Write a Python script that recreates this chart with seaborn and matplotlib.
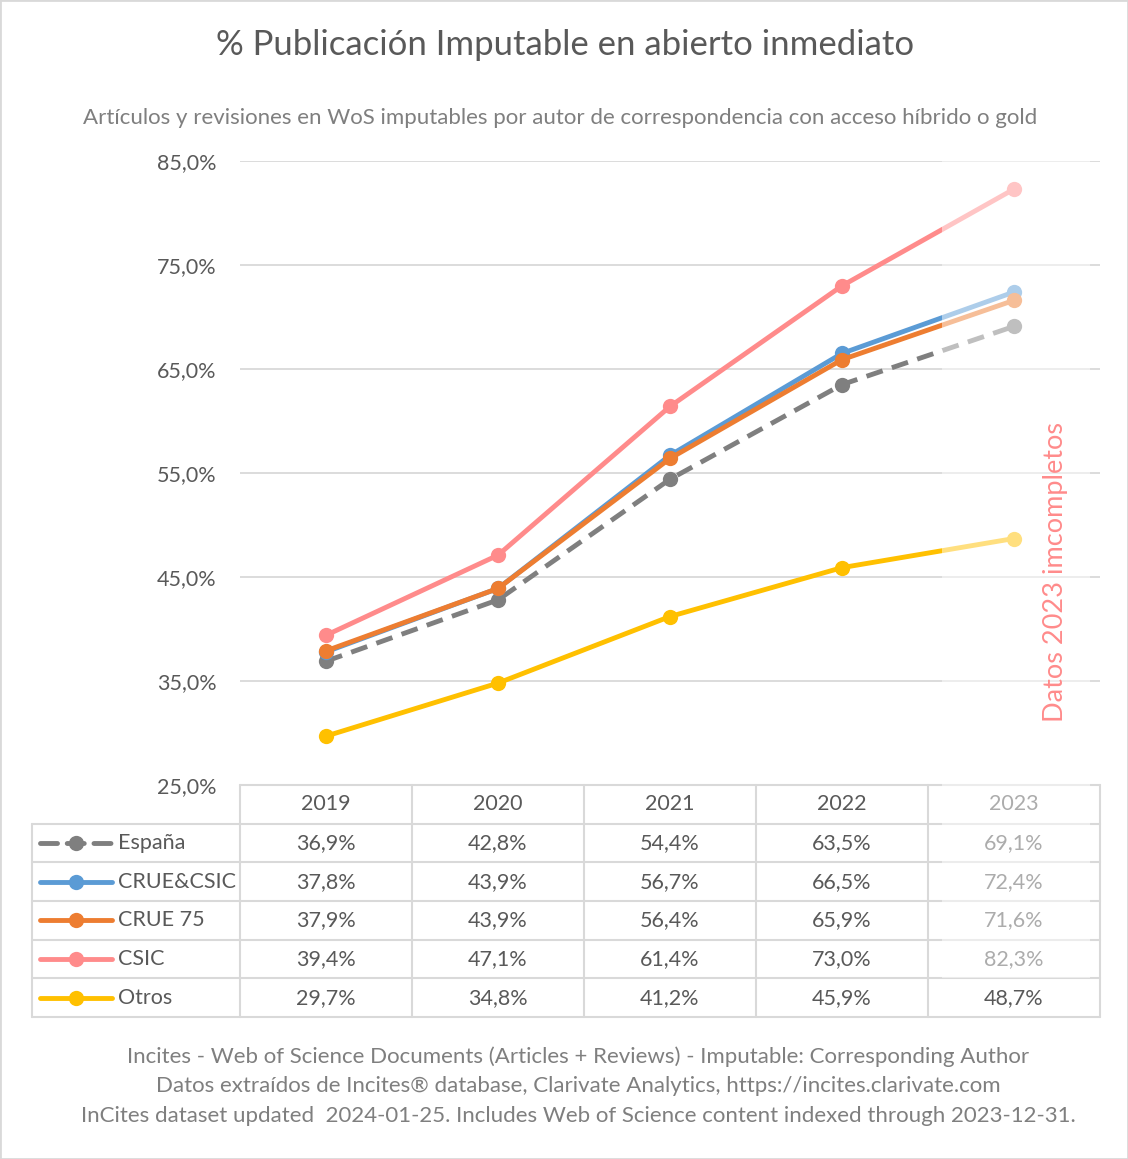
import numpy as np
import pandas as pd
import matplotlib.pyplot as plt
import seaborn as sns
from matplotlib.patches import Rectangle

years = ['2019', '2020', '2021', '2022', '2023']
series_names = ['España', 'CRUE&CSIC', 'CRUE 75', 'CSIC', 'Otros']
espana = [36.9, 42.8, 54.4, 63.5, 69.1]
crue_csic = [37.8, 43.9, 56.7, 66.5, 72.4]
crue75 = [37.9, 43.9, 56.4, 65.9, 71.6]
csic = [39.4, 47.1, 61.4, 73.0, 82.3]
otros = [29.7, 34.8, 41.2, 45.9, 48.7]
yticks = [25, 35, 45, 55, 65, 75, 85]

values = {'España': espana, 'CRUE&CSIC': crue_csic, 'CRUE 75': crue75,
          'CSIC': csic, 'Otros': otros}
colors = {'España': '#7F7F7F', 'CRUE&CSIC': '#5B9BD5', 'CRUE 75': '#ED7D31',
          'CSIC': '#FF8B8B', 'Otros': '#FFC000'}

rows = []
for name in series_names:
    for i, y in enumerate(years):
        rows.append({'serie': name, 'pos': i, 'year': y, 'value': values[name][i]})
df = pd.DataFrame(rows)

sns.set_theme(style='white')
plt.rcParams['font.family'] = ['Lato', 'DejaVu Sans']
text_col = '#595959'
grid_col = '#D9D9D9'
fs = 15.5

W, H = 1128, 1159
fig = plt.figure(figsize=(W / 100, H / 100), dpi=100)
fig.patch.set_facecolor('white')


def fx(px):
    return px / W


def fy(py):
    return 1 - py / H


# main chart area
ax = fig.add_axes([fx(240), fy(785), (1100 - 240) / W, (785 - 161) / H])
ax.set_xlim(-0.5, 4.5)
ax.set_ylim(25, 85)
ax.set_yticks(yticks)
ax.set_yticklabels([f'{v:.1f}%'.replace('.', ',') for v in yticks], color=text_col, fontsize=fs)
ax.tick_params(axis='y', length=0, pad=17)
ax.set_xticks([])
ax.yaxis.grid(True, color=grid_col, lw=1.3)
for s in ax.spines.values():
    s.set_visible(False)

sns.lineplot(data=df, x='pos', y='value', hue='serie', style='serie',
             hue_order=series_names, style_order=series_names,
             palette=colors,
             dashes={'España': (3.5, 2), 'CRUE&CSIC': '', 'CRUE 75': '', 'CSIC': '', 'Otros': ''},
             markers={n: 'o' for n in series_names},
             lw=3.5, markersize=11, markeredgewidth=0, legend=False, ax=ax)
ax.set_xlabel('')
ax.set_ylabel('')

# data table below the chart
left = -0.5 - (240 - 32) / 172
tab = fig.add_axes([fx(32), fy(1017), (1100 - 32) / W, (1017 - 785) / H])
tab.set_xlim(left, 4.5)
tab.set_ylim(6, 0)
tab.axis('off')

tab.plot([-0.5, 4.5], [0, 0], color=grid_col, lw=1.5, clip_on=False)
for r in range(1, 7):
    tab.plot([left, 4.5], [r, r], color=grid_col, lw=1.5, clip_on=False)
tab.plot([left, left], [1, 6], color=grid_col, lw=1.5, clip_on=False)
for c in np.arange(-0.5, 5, 1):
    tab.plot([c, c], [0, 6], color=grid_col, lw=1.5, clip_on=False)

for i, y in enumerate(years):
    tab.text(i, 0.5, y, ha='center', va='center', fontsize=fs, color=text_col)

px2u = 1 / 172
for r, name in enumerate(series_names):
    yc = r + 1.5
    x0 = left + (40 - 32) * px2u
    x1 = left + (112 - 32) * px2u
    xm = left + (76 - 32) * px2u
    ls = (0, (3.5, 2)) if name == 'España' else '-'
    tab.plot([x0, x1], [yc, yc], color=colors[name], lw=3.5, linestyle=ls,
             solid_capstyle='round', dash_capstyle='round')
    tab.plot([xm], [yc], marker='o', markersize=11, color=colors[name], markeredgewidth=0)
    tab.text(left + (118 - 32) * px2u, yc, name, ha='left', va='center', fontsize=fs, color=text_col)
    for i, v in enumerate(values[name]):
        txt = f'{v:.1f}%'.replace('.', ',')
        tab.text(i, yc, txt, ha='center', va='center', fontsize=fs, color=text_col)

# fade for incomplete 2023 data
fig.patches.append(Rectangle((fx(942), fy(978)), (1090 - 942) / W, (978 - 150) / H,
                             transform=fig.transFigure, facecolor='white', alpha=0.5,
                             edgecolor='none', zorder=5))

fig.text(fx(1055), fy(572), 'Datos 2023 imcompletos', rotation=90, ha='center', va='center',
         fontsize=19.5, color='#FF8B8B', zorder=10)

# titles and footer
fig.text(fx(565), fy(45), '% Publicación Imputable en abierto inmediato', ha='center', va='center',
         fontsize=25, color=text_col)
fig.text(fx(560), fy(118), 'Artículos y revisiones en WoS imputables por autor de correspondencia con acceso híbrido o gold',
         ha='center', va='center', fontsize=16, color='#7F7F7F')
footer = ['Incites - Web of Science Documents (Articles + Reviews) - Imputable: Corresponding Author',
          'Datos extraídos de Incites® database, Clarivate Analytics, https://incites.clarivate.com',
          'InCites dataset updated  2024-01-25. Includes Web of Science content indexed through 2023-12-31.']
for k, line in enumerate(footer):
    fig.text(fx(578), fy(1057 + 29.5 * k), line, ha='center', va='center', fontsize=16, color='#7F7F7F')

fig.patches.append(Rectangle((0, 0), 1, 1, transform=fig.transFigure, facecolor='none',
                             edgecolor=grid_col, lw=2, zorder=20))

fig.savefig('out.png', dpi=100)
